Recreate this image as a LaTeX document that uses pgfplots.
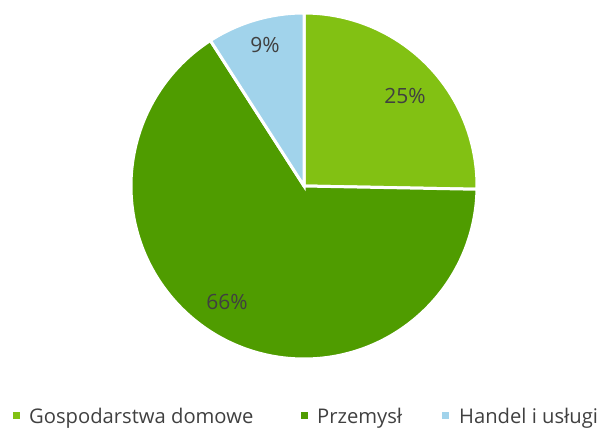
\documentclass[border=0pt]{standalone}
\usepackage{pgfplots}
\pgfplotsset{compat=1.18}
\usepackage{fontspec}
\setmainfont{Open Sans}
\definecolor{lgreen}{HTML}{82C113}
\definecolor{dgreen}{HTML}{4F9C00}
\definecolor{lblue}{HTML}{A1D3EB}
\definecolor{txt}{HTML}{404040}
% shares (%): Gospodarstwa domowe, Przemysl, Handel i uslugi
\def\vA{25.3}
\def\vB{65.6}
\def\vC{9.1}
\begin{document}
\begin{tikzpicture}
\begin{axis}[
  hide axis, scale only axis,
  width=600bp, height=428bp,
  xmin=0, xmax=600, ymin=0, ymax=428,
  clip=false,
]
\coordinate (BL) at (axis cs:0,0);
\coordinate (TR) at (axis cs:600,428);
% wedges, clockwise from 12 o'clock
\fill[lgreen, draw=white, line width=3bp, line join=miter]
  (axis cs:304,242) -- ++(90:173bp) arc[start angle=90, end angle={90-3.6*\vA}, radius=173bp] -- cycle;
\fill[dgreen, draw=white, line width=3bp, line join=miter]
  (axis cs:304,242) -- ++({90-3.6*\vA}:173bp) arc[start angle={90-3.6*\vA}, end angle={90-3.6*(\vA+\vB)}, radius=173bp] -- cycle;
\fill[lblue, draw=white, line width=3bp, line join=miter]
  (axis cs:304,242) -- ++({90-3.6*(\vA+\vB)}:173bp) arc[start angle={90-3.6*(\vA+\vB)}, end angle={-270}, radius=173bp] -- cycle;
% labels
\node[txt, font=\fontsize{21bp}{25bp}\selectfont] at (axis cs:405,332) {25\%};
\node[txt, font=\fontsize{21bp}{25bp}\selectfont] at (axis cs:227,126) {66\%};
\node[txt, font=\fontsize{21bp}{25bp}\selectfont] at (axis cs:265,383) {9\%};
% legend
\fill[lgreen] (axis cs:12.5,8.8) rectangle (axis cs:19.5,16.3);
\node[txt, anchor=base west, inner sep=0pt, font=\fontsize{20.2bp}{24bp}\selectfont] at (axis cs:29,5) {Gospodarstwa domowe};
\fill[dgreen] (axis cs:300.5,8.8) rectangle (axis cs:307.5,16.3);
\node[txt, anchor=base west, inner sep=0pt, font=\fontsize{20.2bp}{24bp}\selectfont] at (axis cs:317,5) {Przemysł};
\fill[lblue] (axis cs:441.5,8.8) rectangle (axis cs:448.5,16.3);
\node[txt, anchor=base west, inner sep=0pt, font=\fontsize{20.2bp}{24bp}\selectfont] at (axis cs:459,5) {Handel i usługi};
\end{axis}
\pgfresetboundingbox
\useasboundingbox (BL) rectangle (TR);
\end{tikzpicture}
\end{document}
